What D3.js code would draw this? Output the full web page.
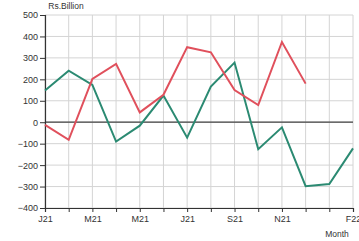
<!DOCTYPE html>
<html><head><meta charset="utf-8">
<script src="https://cdn.jsdelivr.net/npm/d3@7"></script>
<style>body{margin:0;background:#fff}svg{display:block;font-family:"Liberation Sans",Arial,sans-serif}</style>
</head><body><svg id="c" width="359" height="241"></svg>
<script>
const months = ["2021-01","2021-02","2021-03","2021-04","2021-05","2021-06","2021-07","2021-08","2021-09","2021-10","2021-11","2021-12","2022-01","2022-02"];
const redSeries = [-12, -82, 202, 272, 46, 128, 350, 326, 150, 80, 374, 180];
const greenSeries = [148, 240, 174, -90, -16, 124, -72, 166, 278, -126, -24, -298, -288, -122];
const xTickMonths = ["2021-01","2021-03","2021-05","2021-07","2021-09","2021-11","2022-02"];
const xTickLabels = ["J21","M21","M21","J21","S21","N21","F22"];
const yTicks = [-400,-300,-200,-100,0,100,200,300,400,500];

const svg = d3.select("#c");
const L = 45, R = 353, T = 15, B = 208;
const x = d3.scalePoint().domain(months).range([L, R]);
const y = d3.scaleLinear().domain([-400, 500]).range([B, T]);

// grid
svg.append("g").selectAll("line").data(months).join("line")
  .attr("x1", d => x(d)).attr("x2", d => x(d)).attr("y1", T).attr("y2", B)
  .attr("stroke", "#d4d4d4").attr("stroke-width", 1);
svg.append("g").selectAll("line").data(yTicks).join("line")
  .attr("x1", L).attr("x2", R).attr("y1", d => y(d)).attr("y2", d => y(d))
  .attr("stroke", "#d4d4d4").attr("stroke-width", 1);

// zero line
svg.append("line").attr("x1", L).attr("x2", R).attr("y1", y(0)).attr("y2", y(0))
  .attr("stroke", "#444").attr("stroke-width", 1.2);

// axes
const yAxis = d3.axisLeft(y).tickValues(yTicks).tickSize(5).tickPadding(2);
const gy = svg.append("g").attr("transform", `translate(${L},0)`).call(yAxis);
gy.select(".domain").attr("stroke", "#333").attr("stroke-width", 1.2);
gy.selectAll(".tick line").attr("stroke", "#333");
gy.selectAll("text").attr("font-size", 9).attr("fill", "#333");

const xAxis = d3.axisBottom(x).tickSize(4).tickPadding(4)
  .tickFormat(d => { const i = xTickMonths.indexOf(d); return i >= 0 ? xTickLabels[i] : ""; });
const gx = svg.append("g").attr("transform", `translate(0,${B})`).call(xAxis);
gx.select(".domain").attr("stroke", "#333").attr("stroke-width", 1.2);
gx.selectAll(".tick line").attr("stroke", "#333");
gx.selectAll("text").attr("font-size", 9).attr("fill", "#333");

// lines
const line = d3.line().x((d, i) => x(months[i])).y(d => y(d));
svg.append("path").datum(greenSeries).attr("d", line)
  .attr("fill", "none").attr("stroke", "#2b8a72").attr("stroke-width", 2);
svg.append("path").datum(redSeries).attr("d", line)
  .attr("fill", "none").attr("stroke", "#e0505c").attr("stroke-width", 2);

// titles
svg.append("text").attr("x", 66).attr("y", 9).attr("text-anchor", "middle")
  .attr("font-size", 8.5).attr("fill", "#333").text("Rs.Billion");
svg.append("text").attr("x", 337).attr("y", 237).attr("text-anchor", "middle")
  .attr("font-size", 8.5).attr("fill", "#333").text("Month");
</script></body></html>
